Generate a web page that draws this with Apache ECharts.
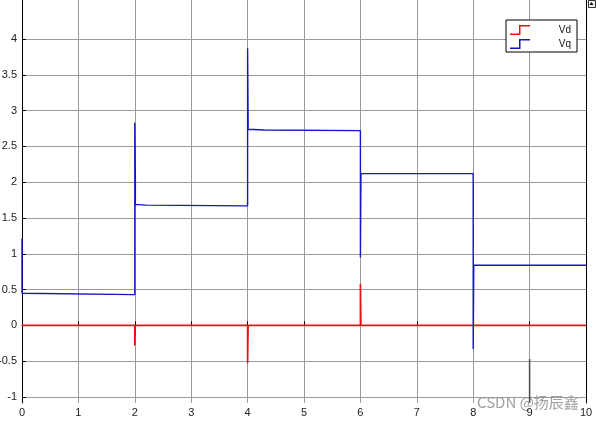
<!DOCTYPE html>
<html>
<head>
<meta charset="utf-8">
<script src="https://cdn.jsdelivr.net/npm/echarts@6/dist/echarts.min.js"></script>
<style>html,body{margin:0;padding:0;background:#fff;}#c{width:596px;height:422px;}</style>
</head>
<body>
<div id="c"></div>
<script>
// ---- data ----
const xTicks = [0, 1, 2, 3, 4, 5, 6, 7, 8, 9, 10];
const yTicks = [-1, -0.5, 0, 0.5, 1, 1.5, 2, 2.5, 3, 3.5, 4];
const vdT = [0, 2, 2, 2.01, 4, 4, 4.01, 6, 6, 6.01, 10];
const vdV = [0, 0, -0.28, 0, 0, -0.53, 0, 0, 0.58, 0, 0];
const vqT = [0, 0, 0.01, 2, 2, 2.01, 2.01, 2.2, 4, 4, 4.01, 4.3, 6, 6, 6.01, 8, 8, 8.01, 10];
const vqV = [1.21, 0.45, 0.43, 0.43, 2.83, 2.05, 1.69, 1.68, 1.67, 3.87, 2.74, 2.73, 2.72, 0.95, 2.12, 2.12, -0.33, 0.84, 0.84];
const spikeT = [9, 9];
const spikeV = [-0.47, -1.08];

const pair = (t, v) => t.map((x, i) => [x, v[i]]);
const font = '"Liberation Sans", Arial, sans-serif';
const stepIcon = 'path://M0,8.5 L9,8.5 L9,0 L20,0 L20,1.5 L10.5,1.5 L10.5,10 L0,10 Z';

const chart = echarts.init(document.getElementById('c'), null, {renderer: 'canvas'});
chart.setOption({
  animation: false,
  backgroundColor: '#fff',
  grid: {left: 22, right: 10, top: 0, bottom: 19, containLabel: false, outerBoundsMode: 'none'},
  xAxis: {
    type: 'value', min: 0, max: 10, interval: 1,
    axisLine: {show: true, lineStyle: {color: '#000', width: 1}},
    axisTick: {show: true, inside: true, length: 4, lineStyle: {color: '#000'}},
    axisLabel: {color: '#222', fontSize: 11, fontFamily: font, margin: 4},
    splitLine: {show: true, lineStyle: {color: '#9a9a9a', width: 1}}
  },
  yAxis: [{
    type: 'value', min: -1.084, max: 4.545,
    axisLine: {show: true, lineStyle: {color: '#000', width: 1}},
    axisTick: {show: true, inside: true, length: 4, customValues: yTicks, lineStyle: {color: '#000'}},
    axisLabel: {color: '#222', fontSize: 11, fontFamily: font, margin: 5, customValues: yTicks},
    splitLine: {show: true, lineStyle: {color: '#9a9a9a', width: 1}}
  }, {
    type: 'value', min: -1.084, max: 4.545, position: 'right',
    axisLine: {show: true, lineStyle: {color: '#000', width: 1}},
    axisTick: {show: false}, axisLabel: {show: false}, splitLine: {show: false}
  }],
  legend: {
    orient: 'vertical', left: 506, top: 20,
    padding: [5, 6, 3, 4], itemGap: 4, itemWidth: 20, itemHeight: 10,
    backgroundColor: '#fff', borderColor: '#000', borderWidth: 1, borderRadius: 0,
    data: [{name: 'Vd', icon: stepIcon}, {name: 'Vq', icon: stepIcon}],
    formatter: '{a|{name}}',
    textStyle: {color: '#111', fontSize: 10, fontFamily: font,
      rich: {a: {width: 36, align: 'right', fontSize: 10, fontFamily: font, color: '#111'}}}
  },
  series: [
    {name: 'spike', type: 'line', data: pair(spikeT, spikeV), showSymbol: false, silent: true,
     lineStyle: {color: '#4a4a4a', width: 1.5}, itemStyle: {color: '#4a4a4a'}},
    {name: 'Vd', type: 'line', data: pair(vdT, vdV), showSymbol: false,
     lineStyle: {color: '#e81010', width: 1.6}, itemStyle: {color: '#e81010'}},
    {name: 'Vq', type: 'line', data: pair(vqT, vqV), showSymbol: false,
     lineStyle: {color: '#1414c8', width: 1.4}, itemStyle: {color: '#1414c8'}}
  ],
  graphic: [
    {type: 'rect', left: 588, top: 0, shape: {width: 7, height: 7},
     style: {fill: '#f4f4f4', stroke: '#333', lineWidth: 1}},
    {type: 'polygon', shape: {points: [[589.5, 5], [591.5, 2], [593.5, 5]]}, style: {fill: '#000'}},
    {type: 'text', left: 477, top: 395,
     style: {text: 'CSDN @扬辰鑫', fill: 'rgba(150,150,150,0.9)', font: '15px "Noto Sans CJK SC", sans-serif',
       backgroundColor: 'rgba(255,255,255,0.6)'}}
  ]
});
</script>
</body>
</html>
